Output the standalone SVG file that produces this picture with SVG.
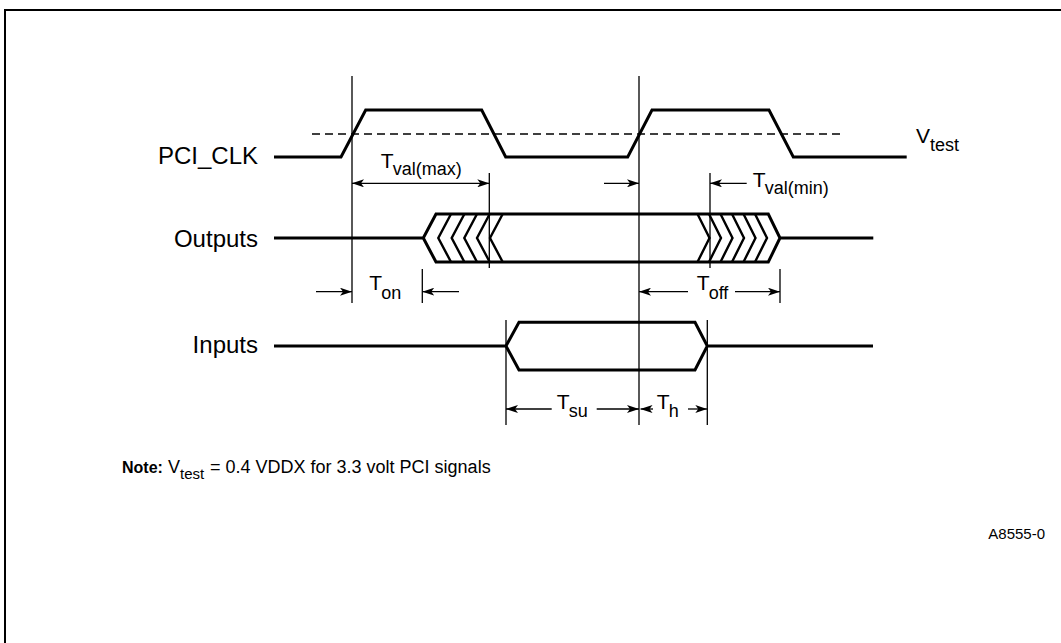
<svg xmlns="http://www.w3.org/2000/svg" width="1061" height="643" viewBox="0 0 1061 643">
<style>
.sig{fill:none;stroke:#000;stroke-width:3;stroke-linejoin:miter}
.chev{fill:none;stroke:#000;stroke-width:2.4}
.ref{fill:none;stroke:#000;stroke-width:1.3}
.arr{fill:none;stroke:#000;stroke-width:1.3;marker-end:url(#ah)}
.dash{fill:none;stroke:#000;stroke-width:1.4;stroke-dasharray:8 5}
text{font-family:"Liberation Sans",Arial,Helvetica,sans-serif;fill:#000}
.lbl{font-size:24px;text-anchor:end}
.t{font-size:21px}
.s{font-size:18px}
</style>
<defs>
<marker id="ah" viewBox="0 0 12 8" refX="12" refY="4" markerWidth="12" markerHeight="8" markerUnits="userSpaceOnUse" orient="auto">
<path d="M0,0 L12,4 L0,8 L3,4 z" fill="#000"/>
</marker>
</defs>
<rect width="1061" height="643" fill="#fff"/>
<path d="M5,643 V10 H1061" fill="none" stroke="#000" stroke-width="2"/>

<g id="pci_clk">
<text class="lbl" x="258" y="164">PCI_CLK</text>
<path class="sig" d="M274,157 H341 L365.7,110 H481.7 L505.7,157 H627.7 L652,110 H769 L793.3,157 H906.7"/>
<path class="dash" d="M312,134 H845"/>
<text x="916" y="143" class="t">V</text><text x="930" y="151" class="s">test</text>
</g>

<g id="outputs">
<text class="lbl" x="258" y="247">Outputs</text>
<path class="sig" d="M274,238 H423.3 L436,214 H768.3 L780,238 L768.3,262 H436 L423.3,238 M780,238 H873.3"/>
<path class="chev" d="M451,214 L438.3,238 L451,262 M464.4,214 L451.7,238 L464.4,262 M477,214 L464.3,238 L477,262 M489.7,214 L477,238 L489.7,262 M502.7,214 L490,238 L502.7,262"/>
<path class="chev" d="M697.5,214 L709.5,238 L697.5,262 M709,214 L721,238 L709,262 M720.5,214 L732.5,238 L720.5,262 M732,214 L744,238 L732,262 M743.5,214 L755.5,238 L743.5,262 M755,214 L767,238 L755,262"/>
</g>

<g id="inputs">
<text class="lbl" x="258" y="353">Inputs</text>
<path class="sig" d="M274,346 H506 L519,322.3 H695 L707.3,346 L695,370 H519 L506,346 M707.3,346 H873"/>
</g>

<g id="connectors">
<path class="ref" d="M352,76 V303 M639,76 V425 M489.3,173 V268 M710,173 V268 M422.3,269 V303 M780,269 V303 M506,320 V425 M707.3,320 V425"/>
<path class="arr" d="M420,183.3 H489.3"/>
<path class="arr" d="M420,183.3 H352"/>
<path class="arr" d="M604,183.3 H639"/>
<path class="arr" d="M746.7,183.3 H710"/>
<path class="arr" d="M316,291.7 H352"/>
<path class="arr" d="M459,291.7 H422.3"/>
<path class="arr" d="M688,291.7 H639"/>
<path class="arr" d="M735,291.7 H780"/>
<path class="arr" d="M551.7,409 H506"/>
<path class="arr" d="M596.7,409 H639"/>
<path class="arr" d="M653,409 H640.5"/>
<path class="arr" d="M688,409 H707.3"/>
</g>

<g id="labels">
<text x="380.7" y="168" class="t">T</text><text x="392.7" y="175" class="s">val(max)</text>
<text x="752.7" y="187" class="t">T</text><text x="764.7" y="194" class="s">val(min)</text>
<text x="369.3" y="290" class="t">T</text><text x="381.3" y="299" class="s">on</text>
<text x="696.7" y="290" class="t">T</text><text x="708.7" y="299" class="s">off</text>
<text x="556.7" y="409.3" class="t">T</text><text x="568.7" y="417.3" class="s">su</text>
<text x="656.7" y="409.3" class="t">T</text><text x="668.7" y="417.3" class="s">h</text>
</g>

<g id="note">
<text x="122" y="473" font-size="16" font-weight="bold">Note:</text>
<text x="168" y="473" font-size="18">V</text><text x="180" y="479" font-size="15">test</text>
<text x="210" y="473" font-size="18">= 0.4 VDDX for 3.3 volt PCI signals</text>
<text x="1045" y="539" font-size="15" text-anchor="end">A8555-0</text>
</g>
</svg>
